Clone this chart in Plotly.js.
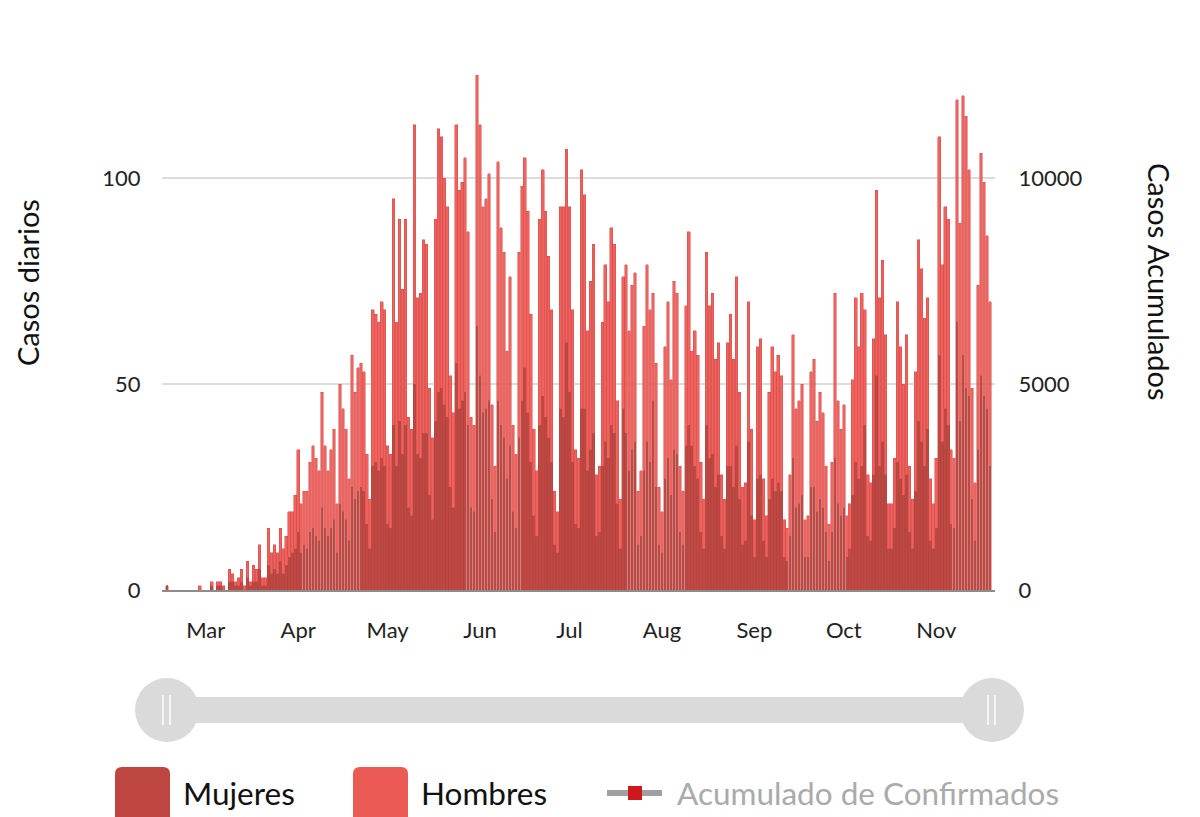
<!DOCTYPE html>
<html>
<head>
<meta charset="utf-8">
<script src="https://cdn.plot.ly/plotly-3.0.1.min.js"></script>
<style>
  html, body { margin: 0; padding: 0; background: #fff; }
  #plot { width: 1200px; height: 817px; }
</style>
</head>
<body>
<div id="plot"></div>
<script>
// first day of the series
const startDate = '2020-02-17';

// daily total (top of each stacked bar), one value per day
const totalDiario = [
  1,0,0,0,0,0,0,0,0,0,0,1,0,0,0,2,0,2,2,1,0,
  5,4,2,3,5,1,7,2,6,5,11,3,3,15,9,11,9,15,10,13,19,19,23,34,21,24,24,31,35,32,29,48,35,29,34,39,21,50,44,39,27,57,48,
  54,55,53,33,22,68,67,65,70,68,35,33,95,65,90,73,90,42,39,113,71,72,85,84,49,37,90,112,110,100,93,52,43,113,97,99,105,87,42,40,125,113,93,95,101,45,30,104,88,82,58,76,40,33,
  82,98,105,92,67,39,29,90,102,92,81,68,24,19,93,93,107,93,68,34,32,102,96,63,75,84,28,30,65,79,70,88,84,46,22,76,79,63,74,77,24,29,64,79,68,72,55,25,19,59,70,51,75,72,30,24,69,87,
  58,63,57,31,22,82,69,72,56,60,28,22,60,67,56,76,48,25,26,70,39,17,59,61,27,18,48,59,53,57,52,17,15,28,62,44,46,50,17,18,53,56,41,48,43,30,16,31,72,46,39,45,18,21,51,
  71,59,72,68,28,26,61,97,71,80,62,21,21,32,70,59,50,62,30,22,53,85,78,66,71,27,21,32,110,79,93,90,34,32,119,89,120,115,102,49,26,74,106,99,86,70
];

// daily cases, women (bottom segment)
const mujeres = [
  1,0,0,0,0,0,0,0,0,0,0,0,0,0,0,1,0,1,1,0,0,
  2,2,1,1,2,0,3,1,2,2,5,1,1,6,4,5,4,7,4,6,8,9,10,14,9,11,10,14,15,13,12,20,15,13,15,17,9,21,19,17,12,25,22,
  24,25,24,16,10,30,31,29,32,30,16,15,40,30,41,33,40,20,18,50,33,32,38,38,23,17,41,48,49,45,42,25,20,55,44,46,48,40,20,19,64,52,43,44,46,22,14,46,40,37,27,35,19,15,
  37,46,54,43,31,18,13,40,47,42,37,31,11,9,44,42,60,48,31,16,15,44,44,29,34,38,13,14,30,36,32,40,38,21,10,44,38,29,34,36,11,13,29,36,31,46,25,11,9,27,32,23,34,33,14,11,35,40,
  35,30,27,14,10,40,32,33,25,28,13,10,30,30,25,35,22,11,12,36,18,8,27,28,12,8,22,27,24,26,24,8,7,13,32,20,21,23,8,8,25,25,19,22,20,14,7,14,32,21,18,20,8,10,23,
  31,27,30,40,13,12,28,52,30,36,28,10,10,15,31,27,23,28,14,10,24,41,36,30,39,12,10,15,57,36,44,40,16,15,65,41,57,49,47,22,12,34,52,47,44,30
];

const tickDates = ['2020-03-01','2020-04-01','2020-05-01','2020-06-01','2020-07-01',
                   '2020-08-01','2020-09-01','2020-10-01','2020-11-01'];
const tickLabels = ['Mar','Apr','May','Jun','Jul','Aug','Sep','Oct','Nov'];
const leftTicks = [0, 50, 100];
const rightTicks = [0, 5000, 10000];

const DAY = 864e5;
const t0 = Date.parse(startDate + 'T00:00:00Z');
const fmt = ms => new Date(ms).toISOString().replace('T', ' ').replace('Z', '');

const fechas = totalDiario.map((v, i) => fmt(t0 + i * DAY).slice(0, 10));
const hombres = totalDiario.map((v, i) => v - mujeres[i]);
let suma = 0;
const acumulado = totalDiario.map(v => (suma += v));

// pixel -> paper helpers (plot area: x 162..995, y 71..590)
const px = x => (x - 162) / 833;
const py = y => (590 - y) / 519;

// box with rounded top corners, in paper units
function roundTop(x0, x1, y0, y1, r) {
  return 'M' + px(x0) + ',' + py(y1) +
    ' L' + px(x0) + ',' + py(y0 + r) +
    ' Q' + px(x0) + ',' + py(y0) + ' ' + px(x0 + r) + ',' + py(y0) +
    ' L' + px(x1 - r) + ',' + py(y0) +
    ' Q' + px(x1) + ',' + py(y0) + ' ' + px(x1) + ',' + py(y0 + r) +
    ' L' + px(x1) + ',' + py(y1) + ' Z';
}

const font = 'Lato, "Open Sans", sans-serif';

let traceMujeres = {
  x: fechas, y: mujeres, type: 'bar', name: 'Mujeres',
  marker: { color: '#c04843', line: { color: '#a9403c', width: 0.4 } },
  hoverinfo: 'x+y'
};

let traceHombres = {
  x: fechas, y: hombres, type: 'bar', name: 'Hombres',
  marker: { color: '#f0625e', line: { color: '#cf4b47', width: 0.5 } },
  hoverinfo: 'x+y'
};

let traceAcum = {
  x: fechas, y: acumulado, type: 'scatter', mode: 'lines+markers',
  name: 'Acumulado de Confirmados', yaxis: 'y2', visible: 'legendonly',
  line: { color: '#999', width: 3 }, marker: { color: '#d0181c', size: 5 }
};

const shapes = [
  // zoom slider
  { type: 'rect', xref: 'paper', yref: 'paper', x0: px(167), x1: px(992), y0: py(723), y1: py(697),
    fillcolor: '#dadada', line: { width: 0 } },
  { type: 'circle', xref: 'paper', yref: 'paper', x0: px(135), x1: px(199), y0: py(742), y1: py(678),
    fillcolor: '#dadada', line: { width: 0 } },
  { type: 'circle', xref: 'paper', yref: 'paper', x0: px(960), x1: px(1024), y0: py(742), y1: py(678),
    fillcolor: '#dadada', line: { width: 0 } },
  { type: 'line', xref: 'paper', yref: 'paper', x0: px(163), x1: px(163), y0: py(725), y1: py(695), line: { color: '#fff', width: 1.5 } },
  { type: 'line', xref: 'paper', yref: 'paper', x0: px(170), x1: px(170), y0: py(725), y1: py(695), line: { color: '#fff', width: 1.5 } },
  { type: 'line', xref: 'paper', yref: 'paper', x0: px(988), x1: px(988), y0: py(725), y1: py(695), line: { color: '#fff', width: 1.5 } },
  { type: 'line', xref: 'paper', yref: 'paper', x0: px(995), x1: px(995), y0: py(725), y1: py(695), line: { color: '#fff', width: 1.5 } },
  // legend symbols
  { type: 'path', xref: 'paper', yref: 'paper', path: roundTop(115, 170, 767, 830, 7),
    fillcolor: '#bd4641', line: { width: 0 } },
  { type: 'path', xref: 'paper', yref: 'paper', path: roundTop(353, 408, 767, 830, 7),
    fillcolor: '#ec5a56', line: { width: 0 } },
  { type: 'line', xref: 'paper', yref: 'paper', x0: px(607), x1: px(662), y0: py(793), y1: py(793),
    line: { color: '#a0a0a0', width: 6 } },
  { type: 'rect', xref: 'paper', yref: 'paper', x0: px(628), x1: px(642), y0: py(800), y1: py(786),
    fillcolor: '#d0181c', line: { width: 0 } }
];

const annotations = [
  { text: 'Casos diarios', xref: 'paper', yref: 'paper', x: px(27), y: py(283), textangle: -90,
    xanchor: 'center', yanchor: 'middle',
    showarrow: false, font: { family: font, size: 29, color: '#111' } },
  { text: 'Casos Acumulados', xref: 'paper', yref: 'paper', x: px(1160), y: py(282), textangle: 90,
    xanchor: 'center', yanchor: 'middle',
    showarrow: false, font: { family: font, size: 29, color: '#111' } },
  { text: 'Mujeres', xref: 'paper', yref: 'paper', x: px(181), y: py(793), xanchor: 'left', yanchor: 'middle',
    showarrow: false, font: { family: font, size: 31.5, color: '#111' } },
  { text: 'Hombres', xref: 'paper', yref: 'paper', x: px(419), y: py(793), xanchor: 'left', yanchor: 'middle',
    showarrow: false, font: { family: font, size: 31.5, color: '#111' } },
  { text: 'Acumulado de Confirmados', xref: 'paper', yref: 'paper', x: px(675), y: py(793), xanchor: 'left', yanchor: 'middle',
    showarrow: false, font: { family: font, size: 31.5, color: '#aaaaaa' } }
];

let layout = {
  width: 1200, height: 817,
  margin: { l: 162, r: 205, t: 71, b: 227 },
  paper_bgcolor: '#fff', plot_bgcolor: '#fff',
  font: { family: font, size: 22, color: '#222' },
  barmode: 'stack', bargap: 0.12,
  showlegend: false,
  xaxis: {
    type: 'date',
    range: [fmt(t0 - 1.68 * DAY), fmt(t0 + 277.7 * DAY)],
    tickvals: tickDates, ticktext: tickLabels,
    ticks: 'outside', ticklen: 20, tickcolor: 'rgba(0,0,0,0)',
    showgrid: false, showline: true, linecolor: '#8c8c8c', linewidth: 2,
    tickfont: { family: font, size: 22, color: '#222' }
  },
  yaxis: {
    range: [0, 126], tickvals: leftTicks, ticktext: leftTicks.map(String),
    ticks: 'outside', ticklen: 16, tickcolor: 'rgba(0,0,0,0)',
    showgrid: true, gridcolor: '#dcdcdc', gridwidth: 1.5, zeroline: false,
    tickfont: { family: font, size: 22, color: '#222' }
  },
  yaxis2: {
    overlaying: 'y', side: 'right',
    range: [0, 12600], tickvals: rightTicks, ticktext: rightTicks.map(String),
    ticks: 'outside', ticklen: 18, tickcolor: 'rgba(0,0,0,0)',
    showgrid: false, zeroline: false,
    tickfont: { family: font, size: 22, color: '#222' }
  },
  shapes: shapes,
  annotations: annotations
};

Plotly.newPlot('plot', [traceMujeres, traceHombres, traceAcum], layout, { displayModeBar: false, staticPlot: true });
</script>
</body>
</html>
